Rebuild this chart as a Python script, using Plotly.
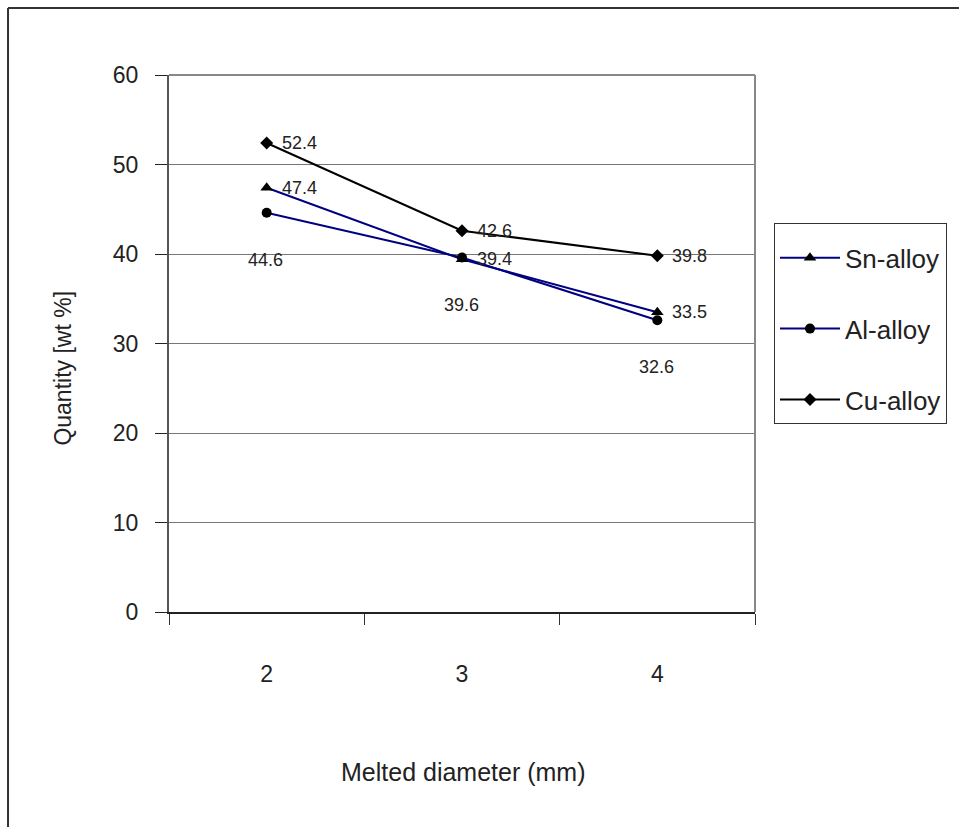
import plotly.graph_objects as go

# Melted diameter categories and measured quantities per alloy
diameters = ["2", "3", "4"]
sn_alloy = [47.4, 39.4, 33.5]
al_alloy = [44.6, 39.6, 32.6]
cu_alloy = [52.4, 42.6, 39.8]
y_ticks = [0, 10, 20, 30, 40, 50, 60]

FONT = "Liberation Sans"
NAVY = "#000080"

fig = go.Figure()

series = [
    ("Sn-alloy", sn_alloy, NAVY, "triangle-up", 11),
    ("Al-alloy", al_alloy, NAVY, "circle", 10),
    ("Cu-alloy", cu_alloy, "black", "diamond", 10),
]
for name, vals, lc, sym, ms in series:
    fig.add_trace(go.Scatter(
        x=diameters, y=vals, name=name, mode="lines+markers",
        legendgroup=name,
        line=dict(color=lc, width=2),
        marker=dict(symbol=sym, size=ms, color="black", line=dict(width=0)),
        cliponaxis=False,
    ))

# Value labels: Sn and Cu to the right of the point, Al below it
# (category axis: annotation x is the category index)
annotations = []
for vals in (sn_alloy, cu_alloy):
    for i, yv in enumerate(vals):
        annotations.append(dict(
            x=i, y=yv, xref="x", yref="y", text=f"{yv}", showarrow=False,
            xanchor="left", yanchor="middle", xshift=13,
            font=dict(family=FONT, size=18, color="#222"),
        ))
for i, yv in enumerate(al_alloy):
    annotations.append(dict(
        x=i, y=yv, xref="x", yref="y", text=f"{yv}", showarrow=False,
        xanchor="center", yanchor="middle", yshift=-47, xshift=-1,
        font=dict(family=FONT, size=18, color="#222"),
    ))

# Axis titles
annotations.append(dict(
    x=0.503, y=-0.298, xref="paper", yref="paper", text="Melted diameter (mm)",
    showarrow=False, xanchor="center", yanchor="middle",
    font=dict(family=FONT, size=25, color="#222"),
))
annotations.append(dict(
    x=-0.181, y=0.455, xref="paper", yref="paper", text="Quantity [wt %]",
    showarrow=False, xanchor="center", yanchor="middle", textangle=-90,
    font=dict(family=FONT, size=23, color="#222"),
))

shapes = [
    # gray frame around the plot area (top and right edges)
    dict(type="line", xref="paper", yref="paper", x0=0, x1=1, y0=1, y1=1,
         line=dict(color="#888888", width=2)),
    dict(type="line", xref="paper", yref="paper", x0=1, x1=1, y0=0, y1=1,
         line=dict(color="#888888", width=2)),
    # outer chart border (left and top)
    dict(type="line", xref="paper", yref="paper", x0=-0.2747, x1=-0.2747,
         y0=-0.45, y1=1.1248, line=dict(color="#333333", width=2)),
    dict(type="line", xref="paper", yref="paper", x0=-0.2747, x1=1.4,
         y0=1.1248, y1=1.1248, line=dict(color="#333333", width=2)),
]

fig.update_layout(
    width=959, height=827,
    margin=dict(l=169, r=204, t=75, b=215),
    paper_bgcolor="white", plot_bgcolor="white",
    font=dict(family=FONT, color="#222"),
    showlegend=True,
    legend=dict(
        x=1.0324, y=0.7244, xanchor="left", yanchor="top",
        bordercolor="#333333", borderwidth=1, bgcolor="white",
        font=dict(family=FONT, size=26, color="#222"),
        title=dict(text=" ", font=dict(size=8)),
        tracegroupgap=34, itemwidth=60,
    ),
    annotations=annotations,
    shapes=shapes,
    xaxis=dict(
        type="category", range=[-0.5, 2.5],
        tickson="boundaries", ticks="outside", ticklen=11,
        tickcolor="#333", tickwidth=1, showgrid=False,
        showline=True, linecolor="#222", linewidth=2,
        tickfont=dict(family=FONT, size=23, color="#222"),
        ticklabelstandoff=40,
    ),
    yaxis=dict(
        range=[0, 60], tickvals=y_ticks, ticks="outside", ticklen=12,
        tickcolor="#222", tickwidth=1,
        showgrid=True, gridcolor="#777777", gridwidth=1, zeroline=False,
        showline=True, linecolor="#555555", linewidth=2,
        tickfont=dict(family=FONT, size=23, color="#222"),
        ticklabelstandoff=12,
    ),
)

fig.write_html("out.html")
